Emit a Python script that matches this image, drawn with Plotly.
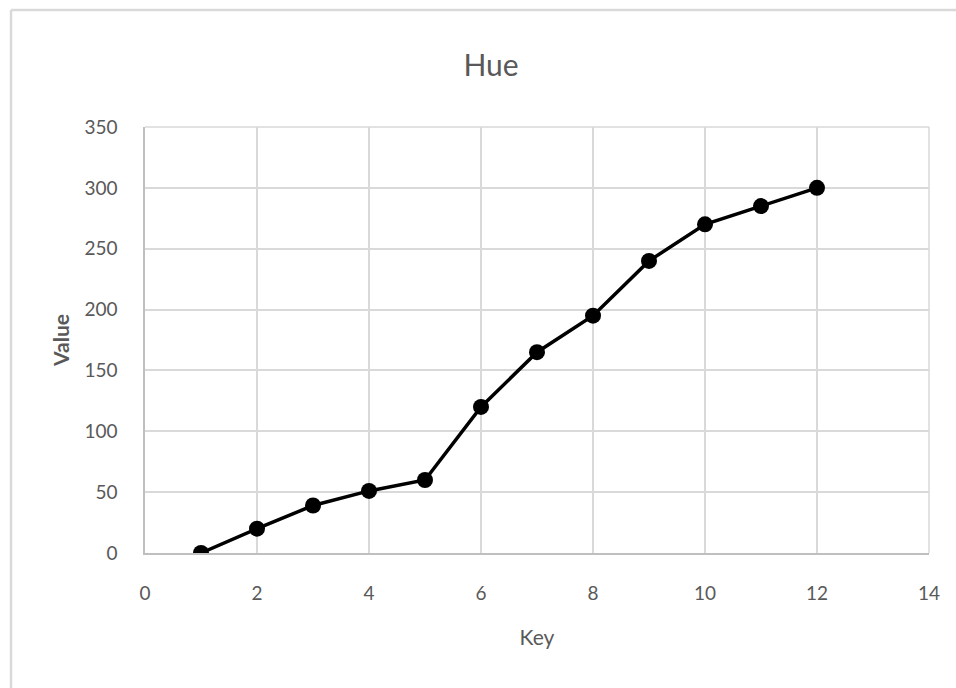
import plotly.graph_objects as go

keys = [1, 2, 3, 4, 5, 6, 7, 8, 9, 10, 11, 12]
values = [0, 20, 39, 51, 60, 120, 165, 195, 240, 270, 285, 300]
x_ticks = [0, 2, 4, 6, 8, 10, 12, 14]
y_ticks = [0, 50, 100, 150, 200, 250, 300, 350]

W, H = 956, 688
L, R, T, B = 145, 27, 127, 135
pw = W - L - R
ph = H - T - B

FONT = "Lato"
GRAY = "#595959"
GRID = "#d9d9d9"

fig = go.Figure()
fig.add_trace(go.Scatter(
    x=keys, y=values, mode="lines+markers",
    line=dict(color="black", width=3.5),
    marker=dict(color="black", size=16),
    showlegend=False, hoverinfo="x+y",
))

def px_x(p):
    return (p - L) / pw

def px_y(p):
    return (H - B - p) / ph

fig.update_layout(
    width=W, height=H,
    margin=dict(l=L, r=R, t=T, b=B),
    paper_bgcolor="white", plot_bgcolor="white",
    title=dict(text="Hue", x=491 / W, xanchor="center", y=1 - 65 / H, yanchor="middle",
               font=dict(family=FONT, size=30, color=GRAY)),
    xaxis=dict(range=[0, 14], tickvals=x_ticks, ticktext=[str(v) for v in x_ticks],
               showgrid=True, gridcolor=GRID, gridwidth=1.5,
               showline=True, linecolor="#bfbfbf", linewidth=1.5,
               zeroline=False, ticks="", ticklabelstandoff=22,
               tickfont=dict(family=FONT, size=19, color=GRAY),
               title=dict(text="Key", font=dict(family=FONT, size=21, color=GRAY), standoff=28)),
    yaxis=dict(range=[0, 350], tickvals=y_ticks, ticktext=[str(v) for v in y_ticks],
               showgrid=True, gridcolor=GRID, gridwidth=1.5,
               showline=True, linecolor="#bfbfbf", linewidth=1.5,
               zeroline=False, ticks="", ticklabelstandoff=22,
               tickfont=dict(family=FONT, size=19, color=GRAY),
               title=dict(text="<b>Value</b>", font=dict(family=FONT, size=21, color=GRAY), standoff=9)),
)

fig.add_shape(type="line", xref="paper", yref="paper", x0=1, x1=1, y0=0, y1=1,
              line=dict(color=GRID, width=1.5), layer="below")
fig.add_shape(type="line", xref="paper", yref="paper", x0=0, x1=1, y0=1, y1=1,
              line=dict(color=GRID, width=1.5), layer="below")
fig.add_shape(type="line", xref="paper", yref="paper",
              x0=px_x(11), x1=px_x(W + 5), y0=px_y(10), y1=px_y(10),
              line=dict(color="#d9d9d9", width=2.5))
fig.add_shape(type="line", xref="paper", yref="paper",
              x0=px_x(11), x1=px_x(11), y0=px_y(10), y1=px_y(H + 5),
              line=dict(color="#d9d9d9", width=2.5))

fig.write_html("out.html", config={"displayModeBar": False},
               post_script="document.body.style.margin='0';")
